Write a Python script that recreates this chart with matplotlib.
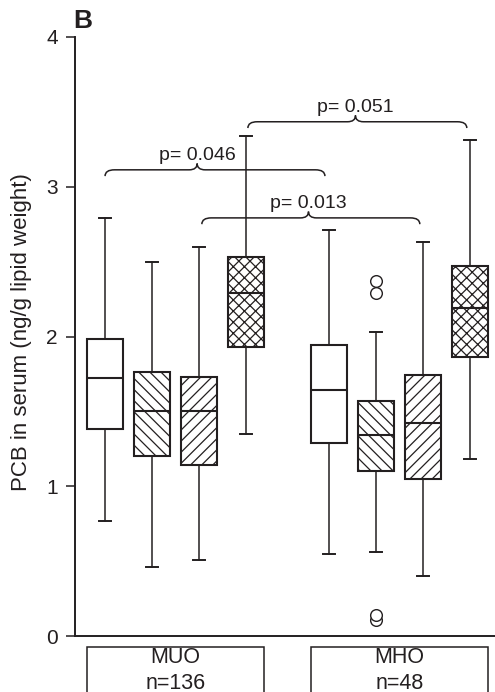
import numpy as np
import matplotlib
matplotlib.use("Agg")
import matplotlib.pyplot as plt
from matplotlib.path import Path
from matplotlib.patches import PathPatch, Rectangle

plt.rcParams["font.family"] = ["Liberation Sans", "DejaVu Sans"]
plt.rcParams["hatch.linewidth"] = 0.9

INK = "#231f20"

# --- data ---
groups     = ["MUO\nn=136", "MHO\nn=48"]
positions  = [1, 2, 3, 4, 5.77, 6.77, 7.77, 8.77]
whis_hi    = [2.79, 2.50, 2.60, 3.34, 2.71, 2.03, 2.63, 3.31]
q3         = [1.98, 1.76, 1.73, 2.53, 1.94, 1.57, 1.74, 2.47]
medians    = [1.72, 1.50, 1.50, 2.29, 1.64, 1.34, 1.42, 2.19]
q1         = [1.38, 1.20, 1.14, 1.93, 1.29, 1.10, 1.05, 1.86]
whis_lo    = [0.77, 0.46, 0.51, 1.35, 0.55, 0.56, 0.40, 1.18]
outliers   = [[], [], [], [], [], [2.368, 2.29, 0.107, 0.137], [], []]
hatches    = ["", "\\\\\\", "///", "xxx"] * 2

# brackets: left end, right end, tip, level, label
p_left  = [1.00, 3.06, 4.04]
p_right = [5.68, 7.70, 8.70]
p_tip   = [2.96, 5.33, 6.33]
p_level = [3.113, 2.792, 3.434]
p_text  = ["p= 0.046", "p= 0.013", "p= 0.051"]

fig = plt.figure(figsize=(4.95, 6.92), dpi=100)
ax = fig.add_axes([75 / 495, 56 / 692, 420 / 495, 599 / 692])

stats = []
for i in range(len(positions)):
    stats.append(dict(med=medians[i], q1=q1[i], q3=q3[i],
                      whislo=whis_lo[i], whishi=whis_hi[i],
                      fliers=np.array(outliers[i])))

bp = ax.bxp(stats, positions=positions, widths=0.755, capwidths=0.25,
            patch_artist=True, showfliers=True,
            boxprops=dict(facecolor="white", edgecolor=INK, linewidth=1.5),
            medianprops=dict(color=INK, linewidth=1.5),
            whiskerprops=dict(color=INK, linewidth=1.1),
            capprops=dict(color=INK, linewidth=1.4),
            flierprops=dict(marker="o", markerfacecolor="white",
                            markeredgecolor=INK, markersize=8.4,
                            markeredgewidth=1.0, linestyle="none"))
for box, h in zip(bp["boxes"], hatches):
    box.set_hatch(h)

# curly brackets with p-values
def brace(x0, x1, xt, y, h=0.042, r=0.2, rt=0.17):
    verts = [(x0, y - h), (x0, y), (x0 + r, y),
             (xt - rt, y), (xt, y), (xt, y + h),
             (xt, y), (xt + rt, y),
             (x1 - r, y), (x1, y), (x1, y - h)]
    codes = [Path.MOVETO, Path.CURVE3, Path.CURVE3,
             Path.LINETO, Path.CURVE3, Path.CURVE3,
             Path.CURVE3, Path.CURVE3,
             Path.LINETO, Path.CURVE3, Path.CURVE3]
    ax.add_patch(PathPatch(Path(verts, codes), fill=False, edgecolor=INK,
                           linewidth=1.1, clip_on=False))

for x0, x1, xt, y, t in zip(p_left, p_right, p_tip, p_level, p_text):
    brace(x0, x1, xt, y)
    ax.text(xt, y + 0.065, t, ha="center", va="baseline", fontsize=14, color=INK)

ax.set_xlim(0.36, 9.30)
ax.set_ylim(0, 4)
ax.set_yticks([0, 1, 2, 3, 4])
ax.set_xticks([])
ax.tick_params(axis="y", length=6.5, width=1.1, labelsize=15, pad=6,
               colors=INK)
for s in ["top", "right"]:
    ax.spines[s].set_visible(False)
for s in ["left", "bottom"]:
    ax.spines[s].set_linewidth(1.4)
    ax.spines[s].set_color(INK)

# group boxes under the axis
trans = ax.get_xaxis_transform()
group_idx = [[0, 1, 2, 3], [4, 5, 6, 7]]
for g, idx in zip(groups, group_idx):
    left = positions[idx[0]] - 0.38
    right = positions[idx[-1]] + 0.38
    ax.add_patch(Rectangle((left, -0.15), right - left, 0.15 - 0.0184,
                           transform=trans, fill=False, edgecolor=INK,
                           linewidth=1.1, clip_on=False))
    name, n = g.split("\n")
    xc = (left + right) / 2
    ax.text(xc, -0.0367, name, transform=trans, ha="center", va="center",
            fontsize=15.5, color=INK)
    ax.text(xc, -0.0785, n, transform=trans, ha="center", va="center",
            fontsize=15.5, color=INK)

fig.text(21.5 / 495, 1 - 332 / 692, "PCB in serum (ng/g lipid weight)",
         rotation=90, ha="center", va="center", fontsize=16, color=INK)
fig.text(73 / 495, 1 - 28 / 692, "B", fontweight="bold", fontsize=19,
         ha="left", va="baseline", color=INK)

fig.savefig("out.png", dpi=100)
